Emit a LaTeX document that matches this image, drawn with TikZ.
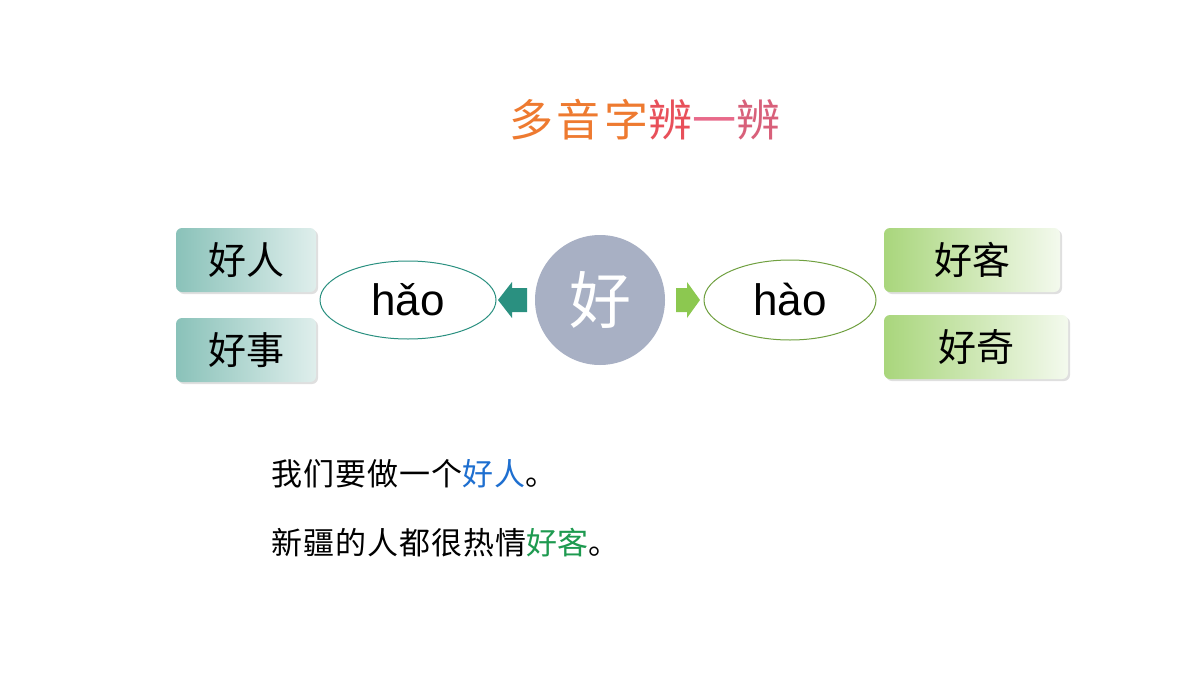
\documentclass[tikz,border=0pt]{standalone}
\usepackage{fontspec}
\setmainfont{Liberation Sans}
\newfontfamily\cjk{Noto Sans CJK SC}
\usetikzlibrary{shapes.geometric,shadows}
\definecolor{teal1}{HTML}{2A9080}
\definecolor{green1}{HTML}{8CC850}
\definecolor{bl}{HTML}{1E6FD0}
\definecolor{gr}{HTML}{1E9A50}
\tikzset{
 lbox/.style={rounded corners=6pt,minimum width=140pt,minimum height=64pt,left color=teal1!55,right color=teal1!15,font=\cjk\fontsize{38}{38}\selectfont,drop shadow={opacity=0.25,shadow xshift=2pt,shadow yshift=-2pt}},
 rbox/.style={rounded corners=6pt,minimum height=64pt,left color=green1!75,right color=green1!10,font=\cjk\fontsize{38}{38}\selectfont,drop shadow={opacity=0.25,shadow xshift=2pt,shadow yshift=-2pt}},
 py/.style={ellipse,fill=white,minimum width=176pt,minimum height=78pt,font=\fontsize{44}{44}\selectfont},
 sent/.style={anchor=west,font=\cjk\fontsize{31}{31}\selectfont}
}
\begin{document}
\begin{tikzpicture}[x=1pt,y=-1pt]
\useasboundingbox[fill=white] (0,0) rectangle (1200,675);
\node (title) at (645,120) {\cjk\fontsize{44}{44}\selectfont\addfontfeature{LetterSpace=8}\textcolor[HTML]{EE7A30}{多音字}\textcolor[HTML]{E8505A}{辨}\textcolor[HTML]{E86A8A}{一}\textcolor[HTML]{D8607A}{辨}};
\node[lbox] (a1) at (246,260) {好人};
\node[lbox] (a2) at (246,350) {好事};
\node[rbox,minimum width=176pt] (b1) at (972,260) {好客};
\node[rbox,minimum width=184pt] (b2) at (976,347) {好奇};
\node[circle,fill={rgb,255:red,168;green,176;blue,196},minimum size=130pt,text=white,font=\cjk\fontsize{62}{62}\selectfont] (c) at (600,300) {好};
\node[py,draw=teal1,line width=1pt] (h1) at (408,300) {hǎo};
\node[py,draw=green1!80!black,line width=1pt,minimum width=172pt,minimum height=80pt] (h2) at (790,300) {hào};
\coordinate (ar1) at (512,300);
\coordinate (ar2) at (687,300);
\fill[teal1] (ar1) ++(-14,0) -- ++(14,-18) -- ++(0,6) -- ++(15,0) -- ++(0,24) -- ++(-15,0) -- ++(0,6) -- cycle;
\fill[green1] (ar2) ++(13,0) -- ++(-13,-18) -- ++(0,6) -- ++(-11,0) -- ++(0,24) -- ++(11,0) -- ++(0,6) -- cycle;
\node[sent] (s1) at (268,474) {\addfontfeature{LetterSpace=3}我们要做一个\textcolor{bl}{好人}。};
\node[sent] (s2) at (268,543) {\addfontfeature{LetterSpace=3}新疆的人都很热情\textcolor{gr}{好客}。};
\end{tikzpicture}
\end{document}
